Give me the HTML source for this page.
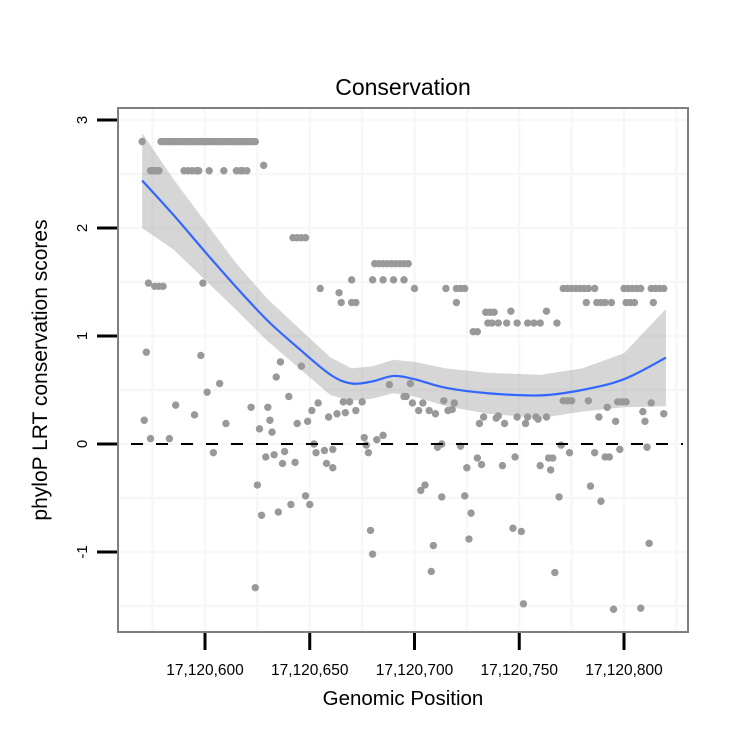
<!DOCTYPE html>
<html><head><meta charset="utf-8"><style>
body{margin:0;background:#fff;}
svg text{font-family:"Liberation Sans",sans-serif;}
</style></head><body>
<svg id="c" width="750" height="750" xmlns="http://www.w3.org/2000/svg"></svg>
<script>
const positions=[570,579,580,581,582,583,584,585,586,587,588,589,590,591,592,593,594,595,596,597,598,599,600,601,602,603,604,605,606,607,608,609,610,611,612,613,614,615,616,617,618,619,620,621,622,623,624,
574,575,576,577,578,590,592,594,596,597,602,609,615,617,618,620,628,
573,576,578,580,599,
572,571,574,583,586,595,598,601,604,607,610,622,626,630,631,629,625,627,624,
642,644,646,648,636,634,646,640,632,633,638,637,643,644,649,651,654,659,663,667,666,669,672,675,652,653,657,661,658,661,648,650,641,635,
655,664,665,670,672,670,676,677,678,682,685,679,680,688,695,
681,683,685,687,689,691,693,695,697,680,685,690,695,700,715,720,722,724,720,728,730,734,736,738,735,737,740,744,746,749,754,757,760,
698,696,699,702,704,707,710,714,716,719,718,711,713,722,725,730,732,742,748,760,731,733,740,739,743,749,754,753,759,703,705,713,724,727,709,708,726,747,751,752,
771,773,775,777,779,781,783,786,800,802,804,806,808,813,815,817,819,782,787,789,791,794,801,803,805,814,763,768,
771,773,775,783,792,797,799,801,813,809,810,819,788,796,758,763,770,774,786,791,793,798,811,764,766,765,784,769,789,812,767,795,808];
const scores=[2.8,2.8,2.8,2.8,2.8,2.8,2.8,2.8,2.8,2.8,2.8,2.8,2.8,2.8,2.8,2.8,2.8,2.8,2.8,2.8,2.8,2.8,2.8,2.8,2.8,2.8,2.8,2.8,2.8,2.8,2.8,2.8,2.8,2.8,2.8,2.8,2.8,2.8,2.8,2.8,2.8,2.8,2.8,2.8,2.8,2.8,2.8,
2.53,2.53,2.53,2.53,2.53,2.53,2.53,2.53,2.53,2.53,2.53,2.53,2.53,2.53,2.53,2.53,2.58,
1.49,1.46,1.46,1.46,1.49,
0.85,0.22,0.05,0.05,0.36,0.27,0.82,0.48,-0.08,0.56,0.19,0.34,0.14,0.34,0.22,-0.12,-0.38,-0.66,-1.33,
1.91,1.91,1.91,1.91,0.76,0.62,0.72,0.44,0.11,-0.10,-0.07,-0.18,-0.17,0.19,0.21,0.31,0.38,0.25,0.28,0.29,0.39,0.39,0.31,0.39,0.0,-0.08,-0.06,-0.05,-0.18,-0.22,-0.48,-0.56,-0.56,-0.63,
1.44,1.40,1.31,1.31,1.31,1.52,0.06,-0.01,-0.08,0.04,0.08,-0.80,-1.02,0.55,0.44,
1.67,1.67,1.67,1.67,1.67,1.67,1.67,1.67,1.67,1.52,1.52,1.52,1.52,1.44,1.44,1.44,1.44,1.44,1.31,1.04,1.04,1.22,1.22,1.22,1.12,1.12,1.12,1.12,1.23,1.12,1.12,1.12,1.12,
0.56,0.44,0.38,0.31,0.38,0.31,0.28,0.40,0.31,0.38,0.32,-0.03,0.0,-0.02,-0.22,-0.13,-0.19,-0.20,-0.12,-0.20,0.19,0.25,0.26,0.24,0.19,0.25,0.25,0.19,0.23,-0.43,-0.38,-0.49,-0.48,-0.64,-0.94,-1.18,-0.88,-0.78,-0.81,-1.48,
1.44,1.44,1.44,1.44,1.44,1.44,1.44,1.44,1.44,1.44,1.44,1.44,1.44,1.44,1.44,1.44,1.44,1.31,1.31,1.31,1.31,1.31,1.31,1.31,1.31,1.31,1.23,1.12,
0.40,0.40,0.40,0.40,0.34,0.39,0.39,0.39,0.38,0.30,0.21,0.28,0.25,0.21,0.25,0.25,-0.01,-0.08,-0.08,-0.12,-0.12,-0.05,-0.03,-0.13,-0.13,-0.24,-0.39,-0.49,-0.53,-0.92,-1.19,-1.53,-1.52];
const fitPos=[570,585,600,615,630,645,660,670,680,690,700,715,735,760,780,800,820];
const fitVal=[2.44,2.12,1.78,1.45,1.14,0.88,0.64,0.56,0.58,0.63,0.60,0.52,0.47,0.45,0.50,0.60,0.80];
const fitLow=[2.0,1.80,1.52,1.24,0.95,0.70,0.45,0.40,0.42,0.47,0.44,0.35,0.28,0.24,0.30,0.34,0.35];
const fitHigh=[2.88,2.45,2.06,1.67,1.34,1.07,0.80,0.70,0.72,0.78,0.76,0.70,0.66,0.64,0.70,0.84,1.25];
const xTicks=[600,650,700,750,800];
const xTickLabels=["17,120,600","17,120,650","17,120,700","17,120,750","17,120,800"];
const yTicks=[-1,0,1,2,3];
const yTickLabels=["-1","0","1","2","3"];

const NS="http://www.w3.org/2000/svg";
const svg=document.getElementById('c');
const X=v=>205+(v-600)*2.095;
const Y=v=>444-v*108;
const L=118,R=688,T=108,B=632;
function mk(t,a,p){const e=document.createElementNS(NS,t);for(const k in a)e.setAttribute(k,a[k]);(p||svg).appendChild(e);return e;}

for(let v=-1.5;v<=3.01;v+=0.5){const g=mk('line',{x1:L,x2:R,y1:Y(v),y2:Y(v),stroke:'#f7f7f7','stroke-width':2.5});

}
for(let v=575;v<=825;v+=25){const g=mk('line',{x1:X(v),x2:X(v),y1:T,y2:B,stroke:'#f7f7f7','stroke-width':2.5});

}

for(let i=0;i<positions.length&&i<scores.length;i++){
 const c=mk('circle',{cx:X(positions[i]),cy:Y(scores[i]),r:3.7,fill:'#999999'});
 
 
}
let d='';
fitPos.forEach((p,i)=>{d+=(i?'L':'M')+X(p)+','+Y(fitHigh[i]);});
for(let i=fitPos.length-1;i>=0;i--)d+='L'+X(fitPos[i])+','+Y(fitLow[i]);
const band=mk('path',{d:d+'Z',fill:'#999999','fill-opacity':0.4});


const pts=fitPos.map((p,i)=>[X(p),Y(fitVal[i])]);
let s='M'+pts[0][0]+','+pts[0][1];
for(let i=0;i<pts.length-1;i++){const p0=pts[Math.max(0,i-1)],p1=pts[i],p2=pts[i+1],p3=pts[Math.min(pts.length-1,i+2)];
 s+='C'+(p1[0]+(p2[0]-p0[0])/6)+','+(p1[1]+(p2[1]-p0[1])/6)+' '+(p2[0]-(p3[0]-p1[0])/6)+','+(p2[1]-(p3[1]-p1[1])/6)+' '+p2[0]+','+p2[1];}
const line=mk('path',{d:s,fill:'none',stroke:'#3366ff','stroke-width':2.2});


const z=mk('line',{x1:L+13,x2:R-5,y1:Y(0),y2:Y(0),stroke:'#000','stroke-width':2,'stroke-dasharray':'12,13'});


const pb=mk('rect',{x:L,y:T,width:R-L,height:B-T,fill:'none',stroke:'#7f7f7f','stroke-width':2});


xTicks.forEach((v,i)=>{
 const t=mk('line',{x1:X(v),x2:X(v),y1:633,y2:650,stroke:'#000','stroke-width':3});
 
 
 const tx=mk('text',{x:X(v),y:675,'font-size':15.5,'text-anchor':'middle'});tx.textContent=xTickLabels[i];
 
 
});
yTicks.forEach((v,i)=>{
 const t=mk('line',{x1:97,x2:117,y1:Y(v),y2:Y(v),stroke:'#000','stroke-width':3});
 
 
 const tx=mk('text',{x:0,y:0,'font-size':15,'text-anchor':'middle',transform:`translate(87,${Y(v)}) rotate(-90)`});tx.textContent=yTickLabels[i];
 
 
});
const title=mk('text',{x:403,y:95,'font-size':23,'text-anchor':'middle'});title.textContent='Conservation';


const xt=mk('text',{x:403,y:705,'font-size':20.5,'text-anchor':'middle'});xt.textContent='Genomic Position';


const yt=mk('text',{x:0,y:0,'font-size':21,'text-anchor':'middle',transform:'translate(47,370) rotate(-90)'});yt.textContent='phyloP LRT conservation scores';


</script>
</body></html>
